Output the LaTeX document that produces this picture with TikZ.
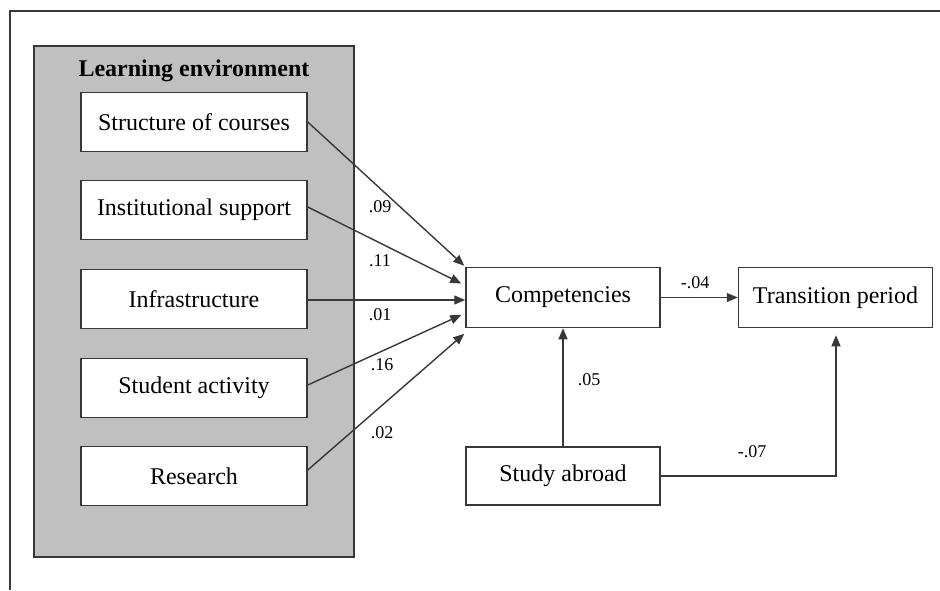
\documentclass[tikz,border=0pt]{standalone}
\usepackage{fontspec}
\setmainfont{Liberation Serif}
\usetikzlibrary{arrows.meta,calc}
\definecolor{ln}{HTML}{383838}
\definecolor{envgray}{HTML}{C0C0C0}
\begin{document}
\begin{tikzpicture}[x=0.5pt,y=-0.5pt,
  box/.style={draw=ln,line width=0.75pt,fill=white,inner sep=0pt,font=\fontsize{12}{14}\selectfont},
  leftbox/.style={box,minimum width=113pt,minimum height=29.5pt},
  rightbox/.style={box,minimum width=97pt,minimum height=30pt},
  path/.style={draw=ln,line width=0.7pt,-{Triangle[length=5.5pt,width=4.5pt]}},
  coef/.style={font=\fontsize{9}{10}\selectfont,inner sep=0pt}]
\useasboundingbox (0,0) rectangle (940,590);
% outer frame
\draw[ln,line width=0.75pt] (10,590) -- (10,11) -- (940,11);
% learning environment
\node[draw=ln,line width=0.75pt,fill=envgray,minimum width=160pt,minimum height=255.5pt,inner sep=0pt] (env) at (194,301.5) {};
\node[font=\bfseries\fontsize{12}{14}\selectfont,inner sep=0pt] (envtitle) at (194,71) {Learning environment};
\node[leftbox] (soc) at (194,122) {Structure of courses};
\node[leftbox] (ins) at (194,210) {Institutional support};
\node[leftbox] (inf) at (194,299) {Infrastructure};
\node[leftbox] (stu) at (194,388) {Student activity};
\node[leftbox] (res) at (194,476) {Research};
% right side
\node[rightbox] (comp) at (563,297.5) {Competencies};
\node[rightbox] (tp) at (835.5,297.5) {Transition period};
\node[rightbox,minimum height=29pt] (sa) at (563,476) {Study abroad};
% end points
\coordinate (e1) at ($(comp.north west)+(-1,-1)$);
\coordinate (e2) at ($(comp.west)+(-4,-14)$);
\coordinate (e3) at ($(comp.west)+(0,2.5)$);
\coordinate (e4) at ($(comp.west)+(-4,17.5)$);
\coordinate (e5) at ($(comp.south west)+(-1,5.5)$);
\coordinate (tpend) at ($(tp.south)+(0.5,7)$);
% paths
\draw[path] (soc.east) -- (e1);
\draw[path] ($(ins.east)+(0,-3)$) -- (e2);
\draw[path] ($(inf.east)+(0,1)$) -- (e3);
\draw[path] ($(stu.east)+(0,-3)$) -- (e4);
\draw[path] ($(res.east)+(0,-6)$) -- (e5);
\draw[path] (comp.east) -- (tp.west);
\draw[path] (sa.north) -- (comp.south);
\draw[path] (sa.east) -| (tpend);
% coefficients
\node[coef] (c1) at (380,207) {.09};
\node[coef] (c2) at (380,261) {.11};
\node[coef] (c3) at (380,315) {.01};
\node[coef] (c4) at (382,365) {.16};
\node[coef] (c5) at (382,433) {.02};
\node[coef] (c6) at (695,283) {-.04};
\node[coef] (c7) at (589,380) {.05};
\node[coef] (c8) at (752,452) {-.07};
\end{tikzpicture}
\end{document}
